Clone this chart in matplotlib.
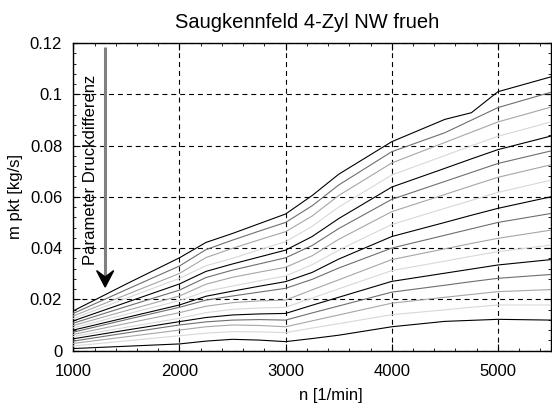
import matplotlib
matplotlib.use("Agg")
import matplotlib.pyplot as plt
from matplotlib.patches import Polygon
from matplotlib.ticker import MultipleLocator

plt.rcParams['font.family'] = ['Liberation Sans', 'DejaVu Sans']

# Drehzahl-Stuetzstellen
n_rpm = [1000, 1500, 2000, 2250, 2500, 2750, 3000, 3250, 3500, 4000, 4500, 4750, 5000, 5500]

# Massenstrom je Druckdifferenz (von oben nach unten)
m_pkt = [
    [0.0155, 0.0260, 0.0362, 0.0422, 0.0457, 0.0495, 0.0533, 0.0605, 0.0688, 0.0815, 0.0902, 0.0928, 0.1010, 0.1068],
    [0.0145, 0.0238, 0.0330, 0.0394, 0.0431, 0.0466, 0.0500, 0.0565, 0.0646, 0.0776, 0.0850, 0.0899, 0.0948, 0.1008],
    [0.0135, 0.0218, 0.0301, 0.0363, 0.0399, 0.0432, 0.0464, 0.0525, 0.0605, 0.0732, 0.0812, 0.0852, 0.0892, 0.0950],
    [0.0125, 0.0204, 0.0282, 0.0331, 0.0360, 0.0393, 0.0425, 0.0485, 0.0560, 0.0685, 0.0761, 0.0799, 0.0836, 0.0892],
    [0.0116, 0.0188, 0.0260, 0.0309, 0.0338, 0.0365, 0.0392, 0.0445, 0.0515, 0.0638, 0.0711, 0.0748, 0.0784, 0.0837],
    [0.0107, 0.0172, 0.0236, 0.0285, 0.0314, 0.0338, 0.0362, 0.0410, 0.0476, 0.0590, 0.0660, 0.0695, 0.0730, 0.0779],
    [0.0098, 0.0156, 0.0213, 0.0259, 0.0286, 0.0306, 0.0325, 0.0370, 0.0434, 0.0542, 0.0609, 0.0643, 0.0676, 0.0725],
    [0.0089, 0.0142, 0.0195, 0.0231, 0.0252, 0.0272, 0.0291, 0.0335, 0.0392, 0.0492, 0.0555, 0.0586, 0.0617, 0.0665],
    [0.0080, 0.0129, 0.0178, 0.0212, 0.0232, 0.0251, 0.0269, 0.0305, 0.0357, 0.0445, 0.0500, 0.0528, 0.0555, 0.0600],
    [0.0072, 0.0121, 0.0169, 0.0197, 0.0213, 0.0228, 0.0243, 0.0278, 0.0322, 0.0400, 0.0450, 0.0475, 0.0500, 0.0535],
    [0.0063, 0.0106, 0.0148, 0.0173, 0.0187, 0.0194, 0.0197, 0.0237, 0.0276, 0.0355, 0.0397, 0.0418, 0.0438, 0.0470],
    [0.0055, 0.0091, 0.0126, 0.0148, 0.0161, 0.0166, 0.0169, 0.0205, 0.0241, 0.0312, 0.0349, 0.0368, 0.0386, 0.0412],
    [0.0046, 0.0080, 0.0113, 0.0129, 0.0139, 0.0143, 0.0145, 0.0177, 0.0208, 0.0270, 0.0302, 0.0318, 0.0334, 0.0355],
    [0.0037, 0.0069, 0.0100, 0.0112, 0.0119, 0.0121, 0.0119, 0.0147, 0.0174, 0.0228, 0.0255, 0.0269, 0.0282, 0.0297],
    [0.0028, 0.0054, 0.0080, 0.0093, 0.0100, 0.0098, 0.0093, 0.0116, 0.0139, 0.0185, 0.0208, 0.0219, 0.0230, 0.0238],
    [0.0018, 0.0038, 0.0058, 0.0068, 0.0074, 0.0073, 0.0070, 0.0088, 0.0105, 0.0140, 0.0159, 0.0169, 0.0178, 0.0178],
    [0.0008, 0.0017, 0.0026, 0.0037, 0.0044, 0.0041, 0.0035, 0.0047, 0.0060, 0.0093, 0.0114, 0.0118, 0.0122, 0.0119],
]

yticks = [0, 0.02, 0.04, 0.06, 0.08, 0.1, 0.12]
ytick_labels = ['0', '0.02', '0.04', '0.06', '0.08', '0.1', '0.12']
xticks = [1000, 2000, 3000, 4000, 5000]

grays = ['#000000', '#6e6e6e', '#a6a6a6', '#d8d8d8']

fig = plt.figure(figsize=(5.52, 4.08), dpi=100)
ax = fig.add_axes([0.1328, 0.1407, 0.8654, 0.7539])

for i, row in enumerate(m_pkt):
    ax.plot(n_rpm, row, color=grays[i % len(grays)], lw=0.8, zorder=3)

ax.set_xlim(1000, 5500)
ax.set_ylim(0, 0.12)
ax.set_xticks(xticks)
ax.set_yticks(yticks)
ax.set_yticklabels(ytick_labels)
ax.xaxis.set_minor_locator(MultipleLocator(200))
ax.yaxis.set_minor_locator(MultipleLocator(0.004))
ax.tick_params(which='both', direction='in', top=True, right=True, labelsize=12, color='black')
ax.tick_params(which='major', length=5, width=0.8)
ax.tick_params(which='minor', length=2.5, width=0.6)
ax.tick_params(axis='x', pad=10)
ax.tick_params(axis='y', pad=8)
for s in ax.spines.values():
    s.set_linewidth(1.0)

ax.grid(True, which='major', color='black', lw=0.8, linestyle=(0, (4.5, 3.5)), zorder=1)

ax.set_title('Saugkennfeld 4-Zyl NW frueh', fontsize=14.5, pad=10.5, x=0.49)
ax.set_xlabel('n [1/min]', fontsize=12)
ax.xaxis.set_label_coords(0.54, -0.12)
ax.set_ylabel('m pkt [kg/s]', fontsize=12)
ax.yaxis.set_label_coords(-0.106, 0.5)

# Pfeil: Parameter Druckdifferenz
arrow_x = 1300
ax.plot([arrow_x, arrow_x], [0.1185, 0.029], color='#808080', lw=2.2, solid_capstyle='butt', zorder=4)
head = Polygon([(arrow_x, 0.0248), (arrow_x - 80, 0.0312), (arrow_x, 0.0287), (arrow_x + 80, 0.0312)],
               closed=True, color='black', zorder=5)
ax.add_patch(head)
ax.text(1166, 0.0706, 'Parameter Druckdifferenz', rotation=90, ha='center', va='center', fontsize=12, zorder=5)

fig.savefig('out.png', dpi=100)
